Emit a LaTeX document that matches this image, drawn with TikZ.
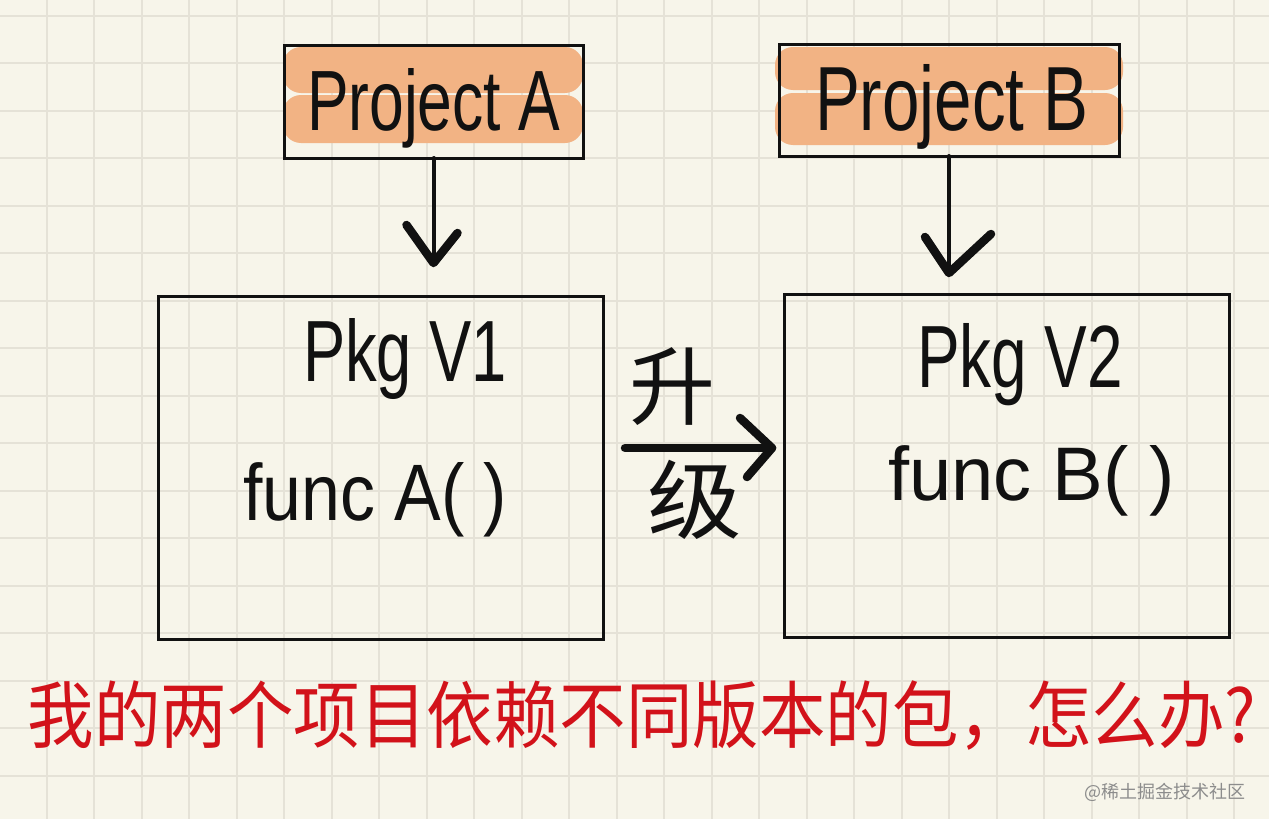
\documentclass[tikz,border=0pt]{standalone}
\usepackage{graphicx}
\usepackage{fontspec}
\newfontfamily\hand{Liberation Sans}
\newfontfamily\cjk{Noto Sans CJK SC}
\usetikzlibrary{calc}
\definecolor{paper}{HTML}{F7F5EA}
\definecolor{gridc}{HTML}{E5E2D7}
\definecolor{hilite}{HTML}{F2B384}
\definecolor{ink}{HTML}{111111}
\definecolor{redink}{HTML}{D2121A}
\definecolor{wmark}{HTML}{8C8C8C}
\tikzset{
  gridline/.style={draw=gridc, line width=2pt},
  band/.style={fill=hilite, rounded corners=18pt},
  frame/.style={draw=ink, line width=3pt, inner sep=0pt, outer sep=0pt},
  shaft/.style={draw=ink, line width=4pt, line cap=round},
  headstroke/.style={draw=ink, line width=8.5pt, line cap=round, line join=round},
  txt/.style={inner sep=0pt, outer sep=0pt, text=ink},
}
\begin{document}
\begin{tikzpicture}[x=1pt, y=-1pt]
\path[use as bounding box] (0,0) rectangle (1269,819);
\fill[paper] (0,0) rectangle (1269,819);
\foreach \i in {0,...,26} \draw[gridline] ({-0.8+47.5*\i},0) -- ++(0,819);
\foreach \j in {0,...,17} \draw[gridline] (0,{15.7+47.5*\j}) -- ++(1269,0);

% highlight bands
\fill[band] (283,47) rectangle (583,93);
\fill[band] (283,95) rectangle (583,143);
\fill[band] (775,47) rectangle (1123,90);
\fill[band] (775,93) rectangle (1123,145);

% boxes
\node[frame, minimum width=299pt, minimum height=113pt] (pa) at (433.5,101.5) {};
\node[frame, minimum width=340pt, minimum height=112pt] (pb) at (949,100) {};
\node[frame, minimum width=445pt, minimum height=343pt] (v1) at (380.5,467.5) {};
\node[frame, minimum width=445pt, minimum height=343pt] (v2) at (1006.5,465.5) {};

% texts
\node[txt, anchor=base west] (ta) at (307,130) {\resizebox{253pt}{62pt}{\hand Project A}};
\node[txt, anchor=base west] (tb) at (815,130) {\resizebox{273pt}{66pt}{\hand Project B}};
\node[txt, anchor=base west] (k1) at (303,381) {\resizebox{204pt}{63pt}{\hand Pkg V1}};
\node[txt, anchor=base west] (f1) at (243,520) {\resizebox{264pt}{58pt}{\hand func A( )}};
\node[txt, anchor=base west] (k2) at (917,387) {\resizebox{206pt}{64pt}{\hand Pkg V2}};
\node[txt, anchor=base west] (f2) at (888,500) {\resizebox{287pt}{55pt}{\hand func B( )}};

% arrows down
\coordinate (atip) at (433.5,263);
\draw[shaft] (pa.south) -- (atip);
\draw[headstroke] ($(atip)+(-27,-38)$) -- (atip) -- ($(atip)+(24,-30)$);
\coordinate (btip) at (949,273);
\draw[shaft] (pb.south) -- (btip);
\draw[headstroke] ($(btip)+(-24,-36)$) -- (btip) -- ($(btip)+(42,-39)$);

% upgrade arrow
\coordinate (us) at (625,448);
\coordinate (ue) at (772,448);
\draw[headstroke] (us) -- (ue);
\draw[headstroke] ($(ue)+(-32,-30)$) -- (ue) -- ($(ue)+(-25,29)$);
\node[txt, font=\cjk\fontsize{86}{86}\selectfont] (sheng) at (672,387) {升};
\node[txt, font=\cjk\fontsize{86}{86}\selectfont, xscale=1.1] (ji) at (695,500) {级};

% question
\node[txt, text=redink] (q) at (642,716) {\resizebox{1228pt}{!}{\scalebox{1}[1.1]{\cjk\fontsize{68}{68}\selectfont 我的两个项目依赖不同版本的包，怎么办?}}};

% watermark
\node[txt, text=wmark, font=\cjk\fontsize{18}{18}\selectfont] (wm) at (1165,792) {@稀土掘金技术社区};
\end{tikzpicture}
\end{document}
